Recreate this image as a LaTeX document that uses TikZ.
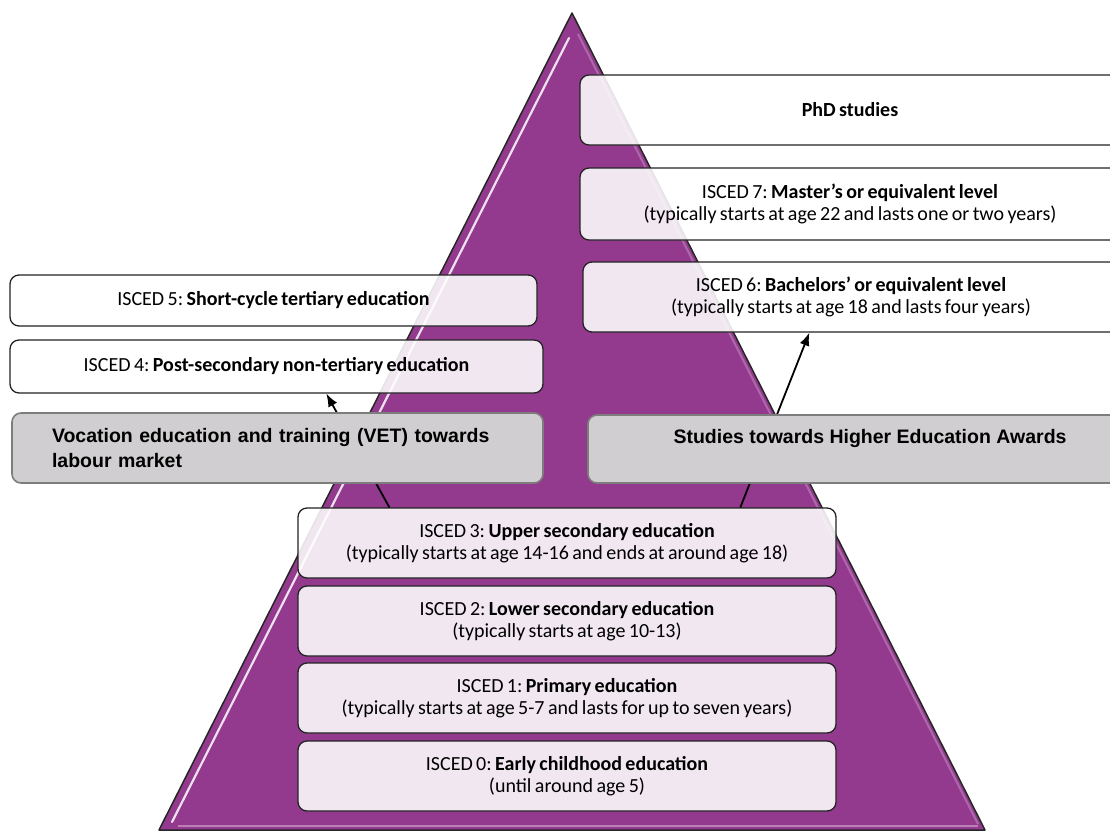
\documentclass[tikz,border=0pt]{standalone}
\usepackage{fontspec}
\setmainfont{Carlito}[WordSpace=0.75]
\newfontfamily\arialb{Liberation Sans}
\usetikzlibrary{arrows.meta,calc}
\frenchspacing
\definecolor{pyr}{RGB}{147,58,143}
\definecolor{boxline}{RGB}{35,35,35}
\definecolor{greyfill}{RGB}{208,206,208}
\definecolor{greyline}{RGB}{125,125,125}
\tikzset{
  lvl/.style={draw=boxline, line width=1.3pt, rounded corners=9pt, fill=white,
    fill opacity=0.88, text opacity=1, draw opacity=1, align=center, inner sep=0pt,
    font=\frenchspacing\fontsize{20}{22}\selectfont, text=black},
  greybox/.style={draw=greyline, line width=1.6pt, rounded corners=9pt, fill=greyfill,
    inner sep=0pt, font=\arialb\bfseries\fontsize{19.5}{24.5}\selectfont, text=black},
  conn/.style={line width=1.8pt, draw=black, -{Latex[length=13pt,width=10pt]}}
}
\begin{document}
\begin{tikzpicture}[x=1pt,y=-1pt]
\useasboundingbox (0,0) rectangle (1110,832);
\clip (0,0) rectangle (1110,832);
% pyramid
\coordinate (apex) at (572,13);
\coordinate (bl) at (159,830);
\coordinate (br) at (985,830);
\fill[pyr] (apex) -- (br) -- (bl) -- cycle;
\draw[white, line width=2.2pt, opacity=0.85, line cap=round] (569,38) -- (172,822);
\draw[pyr!55!white, line width=2pt, opacity=0.8] (178,826) -- (978,826);
\draw[pyr!60!white, line width=2pt, opacity=0.6] (578,34) -- (978,824);
\draw[black!85, line width=1.5pt, line join=round] (apex) -- (br) -- (bl) -- cycle;

% lower levels
\node[lvl, minimum width=538pt, minimum height=70pt] (i3) at (567,543)
  {ISCED 3: \textbf{Upper secondary education}\\(typically starts at age 14-16 and ends at around age 18)};
\node[lvl, minimum width=538pt, minimum height=70pt] (i2) at (567,621)
  {ISCED 2: \textbf{Lower secondary education}\\(typically starts at age 10-13)};
\node[lvl, minimum width=538pt, minimum height=70pt] (i1) at (567,698)
  {ISCED 1: \textbf{Primary education}\\(typically starts at age 5-7 and lasts for up to seven years)};
\node[lvl, minimum width=538pt, minimum height=70pt] (i0) at (567,776)
  {ISCED 0: \textbf{Early childhood education}\\(until around age 5)};

% left column
\node[lvl, minimum width=527pt, minimum height=51pt] (i5) at (273.5,300.5)
  {ISCED 5: \textbf{Short-cycle tertiary education}};
\node[lvl, minimum width=533pt, minimum height=53pt] (i4) at (276.5,366.5)
  {ISCED 4: \textbf{Post-secondary non-tertiary education}};

% right column
\node[lvl, minimum width=540pt, minimum height=70pt] (phd) at (850,110)
  {\textbf{PhD studies}};
\node[lvl, minimum width=540pt, minimum height=72pt] (m7) at (850,204)
  {ISCED 7: \textbf{Master's or equivalent level}\\(typically starts at age 22 and lasts one or two years)};
\node[lvl, minimum width=536pt, minimum height=70pt] (b6) at (851,297)
  {ISCED 6: \textbf{Bachelors' or equivalent level}\\(typically starts at age 18 and lasts four years)};

% connectors (behind the grey boxes)
\draw[conn] ([xshift=92pt]i3.north west) -- ([xshift=317pt]i4.south west);
\draw[conn] ([xshift=443pt]i3.north west) -- ([xshift=227pt]b6.south west);

% grey boxes
\node[greybox, minimum width=531pt, minimum height=70pt, text width=451pt, align=left] (vet) at (277.5,448)
  {Vocation education and training (VET) towards\\labour market};
\node[greybox, minimum width=564pt, minimum height=68pt, align=center] (hea) at (870,449)
  {Studies towards Higher Education Awards\\\mbox{}};
\end{tikzpicture}
\end{document}
